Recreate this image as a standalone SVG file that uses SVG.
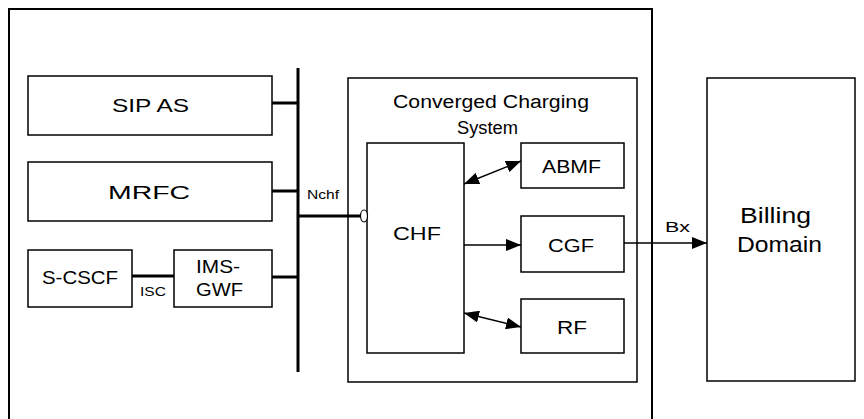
<svg xmlns="http://www.w3.org/2000/svg" width="864" height="419" viewBox="0 0 864 419">
<style>
.box{fill:#fff;stroke:#000;stroke-width:1.5}
.t{font-family:"Liberation Sans",Arial,sans-serif;font-size:18px;fill:#000}
.s{font-family:"Liberation Sans",Arial,sans-serif;font-size:13px;fill:#000}
.bus{stroke:#000;stroke-width:3;fill:none}
.ln{stroke:#000;stroke-width:1.5;fill:none}
</style>
<defs>
<marker id="ah" markerWidth="15" markerHeight="12" refX="15" refY="6" orient="auto-start-reverse" markerUnits="userSpaceOnUse">
<path d="M0,0 L15,6 L0,12 Z" fill="#000"/>
</marker>
</defs>
<rect id="outer" x="9" y="9" width="643" height="414" fill="none" stroke="#000" stroke-width="2"/>
<g id="ccs"><rect class="box" x="348" y="78" width="289" height="304"/>
<text class="t" x="393" y="108" textLength="196" lengthAdjust="spacingAndGlyphs">Converged Charging</text>
<text class="t" x="457" y="134" textLength="61" lengthAdjust="spacingAndGlyphs">System</text></g>
<g id="sipas"><rect class="box" x="28" y="76" width="244" height="59"/><text class="t" x="112" y="112" textLength="77" lengthAdjust="spacingAndGlyphs">SIP AS</text></g>
<g id="mrfc"><rect class="box" x="28" y="162" width="244" height="59"/><text class="t" x="108" y="199" textLength="82" lengthAdjust="spacingAndGlyphs">MRFC</text></g>
<g id="scscf"><rect class="box" x="28" y="250" width="104" height="57"/><text class="t" x="42" y="284" textLength="76" lengthAdjust="spacingAndGlyphs">S-CSCF</text></g>
<g id="imsgwf"><rect class="box" x="174" y="250" width="98" height="57"/><text class="t" x="196" y="273" textLength="44" lengthAdjust="spacingAndGlyphs">IMS-</text><text class="t" x="196" y="296" textLength="47" lengthAdjust="spacingAndGlyphs">GWF</text></g>
<g id="chf"><rect class="box" x="367" y="143" width="97" height="210"/><text class="t" x="393" y="240" textLength="48" lengthAdjust="spacingAndGlyphs">CHF</text></g>
<g id="abmf"><rect class="box" x="521" y="143" width="103" height="45"/><text class="t" x="542" y="173" textLength="59" lengthAdjust="spacingAndGlyphs">ABMF</text></g>
<g id="cgf"><rect class="box" x="521" y="216" width="103" height="56"/><text class="t" x="548" y="252" textLength="46" lengthAdjust="spacingAndGlyphs">CGF</text></g>
<g id="rf"><rect class="box" x="521" y="299" width="103" height="54"/><text class="t" x="557" y="334" textLength="30" lengthAdjust="spacingAndGlyphs">RF</text></g>
<g id="billing"><rect class="box" x="707" y="78" width="148" height="303"/>
<text class="t" x="740" y="223" style="font-size:22px" textLength="71" lengthAdjust="spacingAndGlyphs">Billing</text>
<text class="t" x="737" y="252" style="font-size:22px" textLength="85" lengthAdjust="spacingAndGlyphs">Domain</text></g>
<g id="connectors">
<line class="bus" x1="298" y1="68" x2="298" y2="372"/>
<line class="bus" x1="272" y1="103" x2="298" y2="103"/>
<line class="bus" x1="272" y1="191" x2="298" y2="191"/>
<line class="bus" x1="272" y1="277" x2="298" y2="277"/>
<line class="bus" x1="132" y1="276" x2="174" y2="276"/>
<line class="bus" x1="298" y1="216" x2="361" y2="216"/>
<ellipse cx="364" cy="216" rx="3.5" ry="6" fill="#fff" stroke="#000" stroke-width="1.2"/>
<text class="s" x="307" y="199" textLength="32" lengthAdjust="spacingAndGlyphs">Nchf</text>
<text class="s" x="140" y="296" textLength="26" lengthAdjust="spacingAndGlyphs">ISC</text>
<line class="ln" x1="464" y1="184" x2="521" y2="161" marker-start="url(#ah)" marker-end="url(#ah)"/>
<line class="ln" x1="464" y1="245" x2="521" y2="245" marker-end="url(#ah)"/>
<line class="ln" x1="464" y1="313" x2="521" y2="327" marker-start="url(#ah)" marker-end="url(#ah)"/>
<line class="ln" x1="624" y1="243" x2="707" y2="243" marker-end="url(#ah)"/>
<text class="s" x="665" y="232" style="font-size:15px" textLength="25" lengthAdjust="spacingAndGlyphs">Bx</text>
</g>
</svg>
